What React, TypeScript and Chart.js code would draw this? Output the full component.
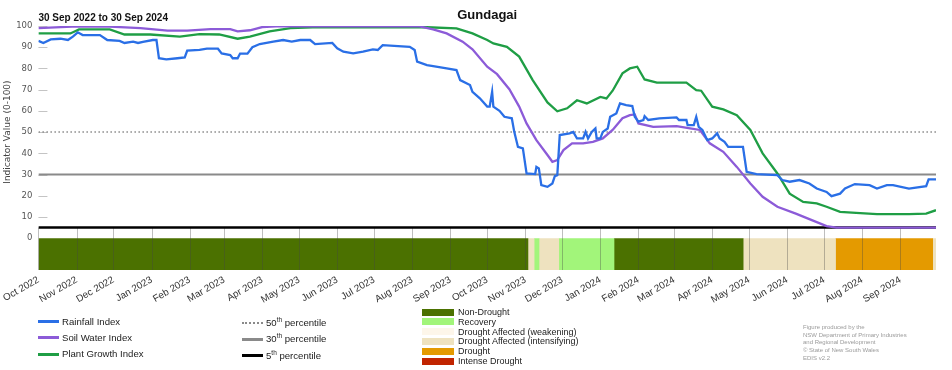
import React, { useEffect, useRef } from "react";
import { Chart, registerables } from "chart.js";
Chart.register(...registerables);

const TITLE = "Gundagai";
const SUBTITLE = "30 Sep 2022 to 30 Sep 2024";
const Y_TITLE = "Indicator Value (0-100)";
const START = "2022-10-01";
const END = "2024-09-30";

const tickDates = [
  "2022-10-01", "2022-11-01", "2022-12-01", "2023-01-01", "2023-02-01", "2023-03-01",
  "2023-04-01", "2023-05-01", "2023-06-01", "2023-07-01", "2023-08-01", "2023-09-01",
  "2023-10-01", "2023-11-01", "2023-12-01", "2024-01-01", "2024-02-01", "2024-03-01",
  "2024-04-01", "2024-05-01", "2024-06-01", "2024-07-01", "2024-08-01", "2024-09-01",
];
const tickLabels = [
  "Oct 2022", "Nov 2022", "Dec 2022", "Jan 2023", "Feb 2023", "Mar 2023",
  "Apr 2023", "May 2023", "Jun 2023", "Jul 2023", "Aug 2023", "Sep 2023",
  "Oct 2023", "Nov 2023", "Dec 2023", "Jan 2024", "Feb 2024", "Mar 2024",
  "Apr 2024", "May 2024", "Jun 2024", "Jul 2024", "Aug 2024", "Sep 2024",
];
const yTickValues = [0, 10, 20, 30, 40, 50, 60, 70, 80, 90, 100];

const seriesNames = ["Rainfall Index", "Soil Water Index", "Plant Growth Index"];
const seriesColors = ["#2a6fe6", "#8c5bd8", "#1f9e45"];

const rainDates = [
  "2022-10-01", "2022-10-05", "2022-10-11", "2022-10-19", "2022-10-25", "2022-10-29",
  "2022-11-02", "2022-11-06", "2022-11-20", "2022-11-26", "2022-12-06", "2022-12-10",
  "2022-12-17", "2022-12-21", "2022-12-25", "2023-01-02", "2023-01-05", "2023-01-07",
  "2023-01-13", "2023-01-22", "2023-01-28", "2023-01-30", "2023-02-09", "2023-02-15",
  "2023-02-24", "2023-02-27", "2023-03-06", "2023-03-08", "2023-03-12", "2023-03-14",
  "2023-03-20", "2023-03-24", "2023-03-30", "2023-04-10", "2023-04-18", "2023-04-25",
  "2023-05-02", "2023-05-10", "2023-05-14", "2023-05-28", "2023-06-01", "2023-06-06",
  "2023-06-14", "2023-06-22", "2023-06-30", "2023-07-04", "2023-07-08", "2023-07-30",
  "2023-08-03", "2023-08-05", "2023-08-13", "2023-08-18", "2023-08-29", "2023-09-06",
  "2023-09-09", "2023-09-17", "2023-09-19", "2023-09-25", "2023-10-01", "2023-10-03",
  "2023-10-05", "2023-10-06", "2023-10-11", "2023-10-15", "2023-10-21", "2023-10-23",
  "2023-10-26", "2023-10-30", "2023-11-02", "2023-11-09", "2023-11-10", "2023-11-12",
  "2023-11-14", "2023-11-19", "2023-11-23", "2023-11-25", "2023-11-27", "2023-11-29",
  "2023-12-07", "2023-12-10", "2023-12-13", "2023-12-18", "2023-12-20", "2023-12-22",
  "2023-12-25", "2023-12-28", "2023-12-29", "2024-01-01", "2024-01-03", "2024-01-07",
  "2024-01-09", "2024-01-14", "2024-01-17", "2024-01-22", "2024-01-27", "2024-01-29",
  "2024-02-01", "2024-02-05", "2024-02-06", "2024-02-09", "2024-02-18", "2024-03-03",
  "2024-03-05", "2024-03-11", "2024-03-12", "2024-03-17", "2024-03-19", "2024-03-21",
  "2024-03-24", "2024-03-28", "2024-04-01", "2024-04-05", "2024-04-07", "2024-04-11",
  "2024-04-14", "2024-04-26", "2024-04-29", "2024-05-07", "2024-05-24", "2024-05-28",
  "2024-06-03", "2024-06-11", "2024-06-19", "2024-06-25", "2024-07-03", "2024-07-07",
  "2024-07-14", "2024-07-18", "2024-07-26", "2024-08-07", "2024-08-13", "2024-08-21",
  "2024-08-26", "2024-09-08", "2024-09-22", "2024-09-24", "2024-09-30",
];
const rainValues = [
  93, 92, 93.7, 94, 93.4, 95,
  97, 95.7, 95.7, 93.4, 93, 92,
  92.6, 92, 92.5, 93.4, 93.4, 84.8,
  84.3, 84.8, 85.2, 88.4, 88.7, 89.3,
  89.3, 87.1, 86.3, 84.8, 84.8, 87,
  87, 90, 91.5, 92.6, 93.4, 92.6,
  93.4, 93.4, 91.5, 92, 89.5, 87.9,
  87.1, 87.9, 89, 88.7, 91, 90.2,
  88.7, 83.2, 81.6, 81.1, 80, 79.2,
  74.5, 72.2, 69, 65.9, 62, 62,
  69, 62, 60, 57.2, 56.5, 50.1,
  43, 42.3, 30.5, 30.2, 33.6, 32.9,
  25, 24.2, 25.8, 29.2, 29.7, 48.6,
  49.4, 50.1, 47, 47, 50.1, 47,
  50.1, 51.7, 47, 47, 50.1, 51.7,
  57.2, 58.8, 63.5, 62.7, 62.3, 57.2,
  54.9, 55.7, 57.5, 55.7, 56.5, 56.9,
  55.7, 55.7, 53.3, 53.3, 57.2, 52.5,
  51, 46.2, 47, 49.4, 47, 45.4,
  43, 43, 31.3, 30.2, 29.7, 27.4,
  26.6, 27.4, 25.8, 23.4, 21.8, 19.8,
  21, 23.4, 25.5, 25, 23.4, 25,
  25, 23.4, 24.5, 27.7, 27.7,
];

const soilDates = [
  "2022-10-01", "2022-11-02", "2022-11-28", "2022-12-23", "2023-01-14", "2023-01-30",
  "2023-02-18", "2023-03-06", "2023-03-12", "2023-03-22", "2023-04-01", "2023-04-16",
  "2023-08-07", "2023-08-18", "2023-08-29", "2023-09-11", "2023-09-19", "2023-10-01",
  "2023-10-09", "2023-10-19", "2023-10-27", "2023-11-02", "2023-11-10", "2023-11-19",
  "2023-11-23", "2023-11-27", "2023-12-02", "2023-12-09", "2023-12-18", "2023-12-26",
  "2024-01-03", "2024-01-11", "2024-01-19", "2024-01-25", "2024-01-29", "2024-02-01",
  "2024-02-13", "2024-03-03", "2024-03-14", "2024-03-22", "2024-03-30", "2024-04-10",
  "2024-04-21", "2024-05-02", "2024-05-12", "2024-05-24", "2024-06-08", "2024-06-21",
  "2024-07-03", "2024-07-11", "2024-09-30",
];
const soilValues = [
  99, 99.8, 99.7, 99, 97.8, 97.8,
  98.5, 98.5, 97.5, 98, 99.5, 100,
  99.8, 98.4, 96.5, 92.6, 89, 80.8,
  77.3, 70.2, 62, 54.1, 46.2, 39.2,
  36, 36.8, 41.5, 44.7, 44.7, 45.4,
  47, 51, 56.5, 58, 58.3, 54.1,
  52.5, 52.8, 51.7, 51, 44.7, 40.7,
  33.6, 25.8, 19.5, 14.8, 11.6, 8.5,
  5.7, 5, 5,
];

const plantDates = [
  "2022-10-01", "2022-10-27", "2022-11-03", "2022-11-28", "2022-12-10", "2022-12-31",
  "2023-01-24", "2023-02-09", "2023-02-25", "2023-03-12", "2023-03-22", "2023-04-07",
  "2023-04-24", "2023-05-18", "2023-07-06", "2023-08-13", "2023-09-06", "2023-09-19",
  "2023-10-01", "2023-10-06", "2023-10-17", "2023-10-27", "2023-11-07", "2023-11-19",
  "2023-11-27", "2023-12-05", "2023-12-13", "2023-12-21", "2024-01-01", "2024-01-06",
  "2024-01-11", "2024-01-19", "2024-01-25", "2024-01-31", "2024-02-06", "2024-02-16",
  "2024-03-11", "2024-03-19", "2024-03-23", "2024-04-01", "2024-04-10", "2024-04-21",
  "2024-05-02", "2024-05-12", "2024-05-24", "2024-06-03", "2024-06-14", "2024-06-25",
  "2024-07-03", "2024-07-14", "2024-07-27", "2024-08-13", "2024-09-08", "2024-09-22",
  "2024-09-30",
];
const plantValues = [
  96.5, 96.5, 98.4, 98.4, 96, 96,
  95, 96.2, 96, 94, 95, 97.5,
  99, 99.5, 99.4, 99.4, 98.9, 96.5,
  93.4, 91.8, 90.2, 85.6, 74.5, 64,
  59.8, 61.2, 65, 63.5, 66.6, 65.9,
  69.5, 77.7, 80, 80.8, 74.8, 73.3,
  73.3, 69.8, 69.5, 62, 60.7, 58,
  51, 40, 30.5, 21, 17.1, 16.4,
  14.8, 12.4, 11.9, 11.3, 11.3, 11.6,
  13.2,
];

const percentileValues = [50, 30, 5];
const percentileOrdinals = ["50", "30", "5"];
const percentileSuffixes = ["th", "th", "th"];
const percentileColors = ["#8a8a8a", "#8a8a8a", "#000000"];

const categoryNames = [
  "Non-Drought",
  "Recovery",
  "Drought Affected (weakening)",
  "Drought Affected (intensifying)",
  "Drought",
  "Intense Drought",
];
const categoryColors = ["#4b7100", "#a2f57a", "#fdf6ea", "#eee2bf", "#e49a00", "#c12400"];

const bandStarts = [
  "2022-10-01", "2023-11-03", "2023-11-08", "2023-11-12", "2023-11-28",
  "2024-01-12", "2024-04-26", "2024-07-10", "2024-09-27",
];
const bandEnds = [
  "2023-11-03", "2023-11-08", "2023-11-12", "2023-11-28", "2024-01-12",
  "2024-04-26", "2024-07-10", "2024-09-27", "2024-09-30",
];
const bandCategories = [0, 3, 1, 3, 1, 0, 3, 4, 3];
const BAND_BOTTOM = -15;

const creditLines = [
  "Figure produced by the",
  "NSW Department of Primary Industries",
  "and Regional Development",
  "\u00a9 State of New South Wales",
  "EDIS v2.2",
];

const DAY = 86400000;
const ms = (s: string) => {
  const [y, m, d] = s.split("-").map(Number);
  return Date.UTC(y, m - 1, d);
};

const decorPlugin = {
  id: "decor",
  beforeDatasetsDraw(chart: any) {
    const { ctx, chartArea, scales } = chart;
    const y = scales.y;
    ctx.save();
    ctx.strokeStyle = "#c4c4c4";
    ctx.lineWidth = 1;
    yTickValues.forEach((v) => {
      if (v <= 0) return;
      const py = Math.round(y.getPixelForValue(v)) + 0.5;
      ctx.beginPath();
      ctx.moveTo(chartArea.left, py);
      ctx.lineTo(chartArea.left + 9, py);
      ctx.stroke();
    });
    ctx.restore();
  },
  afterDatasetDraw(chart: any, args: any) {
    const ds = chart.data.datasets[args.index];
    if (!ds || !ds.gridAfter) return;
    const { ctx, chartArea, scales } = chart;
    const x = scales.x;
    const y = scales.y;
    const top = y.getPixelForValue(percentileValues[2]);
    ctx.save();
    ctx.strokeStyle = "rgba(70,70,70,0.35)";
    ctx.lineWidth = 1;
    x.ticks.forEach((t: any) => {
      const px = Math.round(x.getPixelForValue(t.value)) + 0.5;
      ctx.beginPath();
      ctx.moveTo(px, top);
      ctx.lineTo(px, chartArea.bottom);
      ctx.stroke();
    });
    ctx.restore();
  },
  afterDraw(chart: any) {
    const { ctx, chartArea, scales } = chart;
    const y = scales.y;
    ctx.save();
    ctx.fillStyle = "#111";
    ctx.font = "bold 13px 'Liberation Sans', Arial, sans-serif";
    ctx.textAlign = "center";
    ctx.textBaseline = "alphabetic";
    ctx.fillText(TITLE, (chartArea.left + chartArea.right) / 2, 19);
    ctx.font = "bold 10px 'Liberation Sans', Arial, sans-serif";
    ctx.textAlign = "left";
    ctx.fillText(SUBTITLE, chartArea.left, 21);
    const cy = (y.getPixelForValue(0) + y.getPixelForValue(100)) / 2;
    ctx.translate(8, cy);
    ctx.rotate(-Math.PI / 2);
    ctx.font = "9px 'DejaVu Sans', sans-serif";
    ctx.fillStyle = "#444";
    ctx.textAlign = "center";
    ctx.textBaseline = "middle";
    ctx.fillText(Y_TITLE, 0, 0);
    ctx.restore();
  },
};

export default function App() {
  const ref = useRef<HTMLCanvasElement | null>(null);

  useEffect(() => {
    if (!ref.current) return;
    const seriesData = [
      rainDates.map((d, i) => ({ x: ms(d), y: rainValues[i] })),
      soilDates.map((d, i) => ({ x: ms(d), y: soilValues[i] })),
      plantDates.map((d, i) => ({ x: ms(d), y: plantValues[i] })),
    ];
    const datasets: any[] = [];
    seriesNames.forEach((name, i) => {
      datasets.push({
        label: name,
        data: seriesData[i],
        borderColor: seriesColors[i],
        borderWidth: 2.3,
        pointRadius: 0,
        tension: 0,
        fill: false,
        order: 0,
      });
    });
    percentileValues.forEach((v, i) => {
      datasets.push({
        label: percentileOrdinals[i] + percentileSuffixes[i] + " percentile",
        data: [
          { x: ms(START), y: v },
          { x: ms(END), y: v },
        ],
        borderColor: percentileColors[i],
        borderWidth: i === 0 ? 1.5 : i === 1 ? 2 : 2.5,
        borderDash: i === 0 ? [1.5, 2.5] : [],
        pointRadius: 0,
        fill: false,
        order: 10,
      });
    });
    const lastBand = bandStarts.length - 1;
    bandStarts.forEach((s, i) => {
      // small overlap into the next band hides anti-aliasing seams
      const endX = ms(bandEnds[i]) + (i < lastBand ? DAY * 0.6 : 0);
      datasets.push({
        label: categoryNames[bandCategories[i]],
        data: [
          { x: ms(s), y: 0 },
          { x: endX, y: 0 },
        ],
        borderColor: "rgba(0,0,0,0)",
        borderWidth: 0,
        backgroundColor: categoryColors[bandCategories[i]],
        pointRadius: 0,
        fill: { value: BAND_BOTTOM },
        order: 20,
        gridAfter: i === 0,
      });
    });

    const chart = new Chart(ref.current, {
      type: "line",
      data: { datasets },
      options: {
        animation: false,
        responsive: false,
        events: [],
        layout: { padding: { top: 26, right: 16, left: 0, bottom: 0 } },
        plugins: {
          legend: { display: false },
          tooltip: { enabled: false },
          title: { display: false },
        },
        scales: {
          x: {
            type: "linear",
            min: ms(START),
            max: ms(END),
            grid: { display: false, drawTicks: false },
            border: { display: false },
            afterBuildTicks: (scale: any) => {
              scale.ticks = tickDates.map((d) => ({ value: ms(d) }));
            },
            afterFit: (scale: any) => {
              scale.height = 100;
            },
            ticks: {
              autoSkip: false,
              maxRotation: 30,
              minRotation: 30,
              padding: 4,
              color: "#333",
              font: { family: "'Liberation Sans', Arial, sans-serif", size: 9.8 },
              callback: (_v: any, i: number) => tickLabels[i] ?? "",
            },
          },
          y: {
            type: "linear",
            min: BAND_BOTTOM,
            max: 100,
            grid: { display: false, drawTicks: false },
            border: { display: false },
            afterBuildTicks: (scale: any) => {
              scale.ticks = yTickValues.map((v) => ({ value: v }));
            },
            afterFit: (scale: any) => {
              scale.width = 38;
            },
            ticks: {
              padding: 6,
              color: "#555",
              font: { family: "'DejaVu Sans', sans-serif", size: 8.5 },
              callback: (v: any) => String(v),
            },
          },
        },
      } as any,
      plugins: [decorPlugin as any],
    });
    return () => chart.destroy();
  }, []);

  const lineRows = [321.5, 337.8, 354.2];
  const pctRows = [322.5, 339, 355.5];
  const catRow0 = 312;
  const catPitch = 9.8;
  const credRow0 = 326.7;
  const credPitch = 7.8;

  return (
    <div
      style={{
        position: "absolute",
        left: 0,
        top: 0,
        width: 952,
        height: 370,
        background: "#fff",
        overflow: "hidden",
        fontFamily: "'Liberation Sans', Arial, sans-serif",
        color: "#222",
      }}
    >
      <canvas
        ref={ref}
        width={952}
        height={370}
        style={{ position: "absolute", left: 0, top: 0, width: 952, height: 370 }}
      />
      {seriesNames.map((n, i) => (
        <div key={n} style={{ position: "absolute", left: 38, top: lineRows[i] - 7, height: 14, display: "flex", alignItems: "center" }}>
          <div style={{ width: 21, height: 3, background: seriesColors[i], marginRight: 3 }} />
          <span style={{ fontSize: 9.6, lineHeight: "14px", whiteSpace: "nowrap" }}>{n}</span>
        </div>
      ))}
      {percentileValues.map((v, i) => (
        <div key={v} style={{ position: "absolute", left: 242, top: pctRows[i] - 7, height: 14, display: "flex", alignItems: "center" }}>
          <div
            style={{
              width: 21,
              height: 0,
              borderTop: i === 0 ? "2px dotted #8a8a8a" : `3px solid ${percentileColors[i]}`,
              marginRight: 3,
            }}
          />
          <span style={{ fontSize: 9.6, lineHeight: "14px", whiteSpace: "nowrap" }}>
            {percentileOrdinals[i]}
            <sup style={{ fontSize: 6.5, verticalAlign: "4px", lineHeight: 0 }}>{percentileSuffixes[i]}</sup> percentile
          </span>
        </div>
      ))}
      {categoryNames.map((n, i) => (
        <div key={n} style={{ position: "absolute", left: 422, top: catRow0 + i * catPitch - 6, height: 12, display: "flex", alignItems: "center" }}>
          <div style={{ width: 32, height: 7, background: categoryColors[i], marginRight: 4 }} />
          <span style={{ fontSize: 9, lineHeight: "12px", whiteSpace: "nowrap" }}>{n}</span>
        </div>
      ))}
      {creditLines.map((t, i) => (
        <div
          key={t}
          style={{
            position: "absolute",
            left: 803,
            top: credRow0 + i * credPitch - 4,
            height: 8,
            lineHeight: "8px",
            fontSize: 6,
            color: "#9a9a9a",
            whiteSpace: "nowrap",
          }}
        >
          {t}
        </div>
      ))}
    </div>
  );
}
